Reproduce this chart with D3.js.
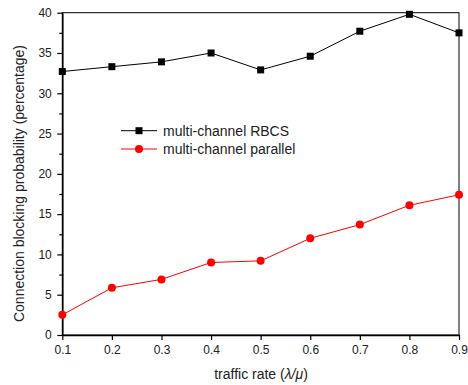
<!DOCTYPE html>
<html>
<head>
<meta charset="utf-8">
<script src="https://cdn.jsdelivr.net/npm/d3@7"></script>
<style>
  body { margin: 0; background: #fff; }
  svg { display: block; font-family: "Liberation Sans", Arial, sans-serif; }
</style>
</head>
<body>
<svg id="chart" width="468" height="385"></svg>
<script>
// data
const traffic = [0.1, 0.2, 0.3, 0.4, 0.5, 0.6, 0.7, 0.8, 0.9];
const rbcs = [32.7, 33.3, 33.9, 35.0, 32.9, 34.6, 37.7, 39.8, 37.5];
const parallel = [2.5, 5.86, 6.9, 9.0, 9.2, 12.0, 13.7, 16.1, 17.4];
const yTicks = [0, 5, 10, 15, 20, 25, 30, 35, 40];
const yMinor = [2.5, 7.5, 12.5, 17.5, 22.5, 27.5, 32.5, 37.5];
const seriesNames = ["multi-channel RBCS", "multi-channel parallel"];

const width = 468, height = 385;
const margin = { top: 12.7, right: 9, bottom: 50, left: 62.3 };

const svg = d3.select("#chart");

const x = d3.scaleLinear().domain([0.1, 0.9]).range([margin.left, width - margin.right]);
const y = d3.scaleLinear().domain([0, 40]).range([height - margin.bottom, margin.top]);

// frame (top / right)
svg.append("rect")
  .attr("x", x(0.1)).attr("y", y(40))
  .attr("width", x(0.9) - x(0.1)).attr("height", y(0) - y(40))
  .attr("fill", "none").attr("stroke", "#000").attr("stroke-width", 1);

// x axis
const xAxis = svg.append("g")
  .attr("transform", `translate(0,${y(0)})`)
  .call(d3.axisBottom(x).tickValues(traffic).tickFormat(d3.format(".1f")).tickSize(5).tickSizeOuter(0));
xAxis.select(".domain").attr("stroke-width", 1.6);
xAxis.selectAll(".tick line").attr("stroke-width", 1.2);
xAxis.selectAll("text").attr("font-size", 12).attr("fill", "#222").attr("dy", "0.9em")
  .style("font-family", "Liberation Sans, Arial, sans-serif");

// y minor ticks
svg.append("g")
  .attr("transform", `translate(${x(0.1)},0)`)
  .call(d3.axisLeft(y).tickValues(yMinor).tickSize(3).tickFormat(""))
  .call(g => g.select(".domain").remove())
  .selectAll(".tick line").attr("stroke-width", 1.2);

// y axis
const yAxis = svg.append("g")
  .attr("transform", `translate(${x(0.1)},0)`)
  .call(d3.axisLeft(y).tickValues(yTicks).tickSize(5).tickSizeOuter(0));
yAxis.select(".domain").attr("stroke-width", 1.6);
yAxis.selectAll(".tick line").attr("stroke-width", 1.2);
yAxis.selectAll("text").attr("font-size", 12).attr("fill", "#222").attr("x", -10.5)
  .style("font-family", "Liberation Sans, Arial, sans-serif");

// axis titles
svg.append("text")
  .attr("transform", `translate(24,183.5) rotate(-90)`)
  .attr("text-anchor", "middle")
  .attr("font-size", 14)
  .attr("fill", "#222")
  .text("Connection blocking probability (percentage)");

const xt = svg.append("text")
  .attr("x", 261).attr("y", 379)
  .attr("text-anchor", "middle")
  .attr("font-size", 14)
  .attr("fill", "#222");
xt.append("tspan").text("traffic rate (");
xt.append("tspan").attr("font-style", "italic").text("λ/μ");
xt.append("tspan").text(")");

// lines
const line = d3.line().x(d => x(d[0])).y(d => y(d[1]));
const rbcsData = d3.zip(traffic, rbcs);
const parData = d3.zip(traffic, parallel);

svg.append("path").datum(rbcsData)
  .attr("d", line).attr("fill", "none").attr("stroke", "#000").attr("stroke-width", 1);
svg.append("path").datum(parData)
  .attr("d", line).attr("fill", "none").attr("stroke", "#f00").attr("stroke-width", 1);

svg.append("g").selectAll("rect").data(rbcsData).join("rect")
  .attr("x", d => x(d[0]) - 3.5).attr("y", d => y(d[1]) - 3.5)
  .attr("width", 7).attr("height", 7).attr("fill", "#000");
svg.append("g").selectAll("circle").data(parData).join("circle")
  .attr("cx", d => x(d[0])).attr("cy", d => y(d[1])).attr("r", 4).attr("fill", "#f00");

// legend
const legend = svg.append("g");
const lx0 = 121, lx1 = 157, ly = [130.7, 149];
legend.append("line").attr("x1", lx0).attr("x2", lx1).attr("y1", ly[0]).attr("y2", ly[0])
  .attr("stroke", "#000").attr("stroke-width", 1);
legend.append("rect").attr("x", (lx0 + lx1) / 2 - 3.5).attr("y", ly[0] - 3.5)
  .attr("width", 7).attr("height", 7).attr("fill", "#000");
legend.append("line").attr("x1", lx0).attr("x2", lx1).attr("y1", ly[1]).attr("y2", ly[1])
  .attr("stroke", "#f00").attr("stroke-width", 1);
legend.append("circle").attr("cx", (lx0 + lx1) / 2).attr("cy", ly[1]).attr("r", 4).attr("fill", "#f00");
legend.selectAll("text").data(seriesNames).join("text")
  .attr("x", 163).attr("y", (d, i) => ly[i])
  .attr("dy", "0.35em")
  .attr("font-size", 14)
  .attr("fill", "#222")
  .text(d => d);
</script>
</body>
</html>
